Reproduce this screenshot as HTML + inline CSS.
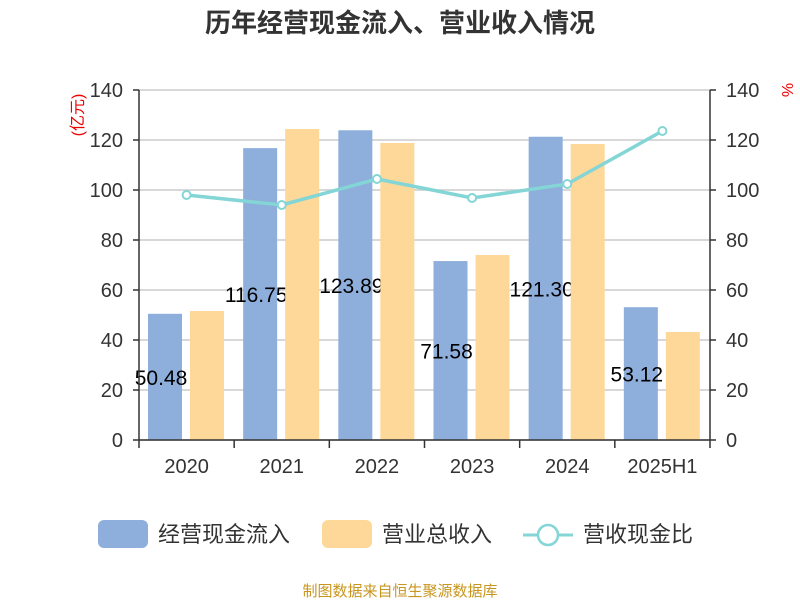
<!DOCTYPE html>
<html><head><meta charset="utf-8"><style>
body{margin:0;background:#fff;}
svg text{font-family:"Liberation Sans","Noto Sans CJK SC",sans-serif;}
</style></head><body>
<svg width="800" height="600" xmlns="http://www.w3.org/2000/svg">
<text x="400" y="32" text-anchor="middle" font-size="26" font-weight="bold" fill="#333">历年经营现金流入、营业收入情况</text>
<g id="grid"></g>
<g id="bars"></g>
<g id="axes"></g>
<g id="line"></g>
<text transform="translate(83,115) rotate(-90)" text-anchor="middle" font-size="16" fill="#e00">(亿元)</text>
<text transform="translate(782,90) rotate(90)" text-anchor="middle" font-size="16" fill="#e00">%</text>
<g>
<rect x="98" y="520" width="50" height="28" rx="6" fill="#8eaedb"/>
<text x="158" y="542" font-size="22" fill="#333">经营现金流入</text>
<rect x="322" y="520" width="50" height="28" rx="6" fill="#fed899"/>
<text x="382" y="542" font-size="22" fill="#333">营业总收入</text>
<line x1="523" y1="535" x2="573" y2="535" stroke="#84d5d6" stroke-width="3"/>
<circle cx="548" cy="535" r="10" fill="#fff" stroke="#84d5d6" stroke-width="2.5"/>
<text x="583" y="542" font-size="22" fill="#333">营收现金比</text>
</g>
<text x="400" y="596" text-anchor="middle" font-size="15" fill="#c8961e">制图数据来自恒生聚源数据库</text>
</svg>
<script>
const categories=["2020","2021","2022","2023","2024","2025H1"];
const cashInflow=[50.48,116.75,123.89,71.58,121.30,53.12];
const revenue=[51.6,124.4,118.8,74.0,118.4,43.2];
const ratio=[98.0,94.0,104.4,96.8,102.4,123.6];
const yTicks=[0,20,40,60,80,100,120,140];
const NS="http://www.w3.org/2000/svg";
const X0=139,X1=710,Y0=440,Y1=90,band=(X1-X0)/categories.length;
const y=v=>Y0-(v/140)*(Y0-Y1);
const yr=v=>Y0-(v/140)*(Y0-Y1);
function mk(tag,attrs,parent){const e=document.createElementNS(NS,tag);for(const k in attrs)e.setAttribute(k,attrs[k]);document.getElementById(parent).appendChild(e);return e;}
yTicks.forEach(t=>{
 const g=mk('line',{x1:X0,x2:X1,y1:y(t),y2:y(t),stroke:'#ccc','stroke-width':1.5},'grid');
 
 
 const l=mk('text',{x:X0-16,y:y(t)+7,'text-anchor':'end','font-size':20,fill:'#333'},'axes');l.textContent=t;
 
 
 const r=mk('text',{x:X1+16,y:yr(t)+7,'font-size':20,fill:'#333'},'axes');r.textContent=t;
 
 
 const tk=mk('line',{x1:X0-6,x2:X0,y1:y(t),y2:y(t),stroke:'#333','stroke-width':1.5},'axes');
 
 
 const tr=mk('line',{x1:X1,x2:X1+6,y1:yr(t),y2:yr(t),stroke:'#333','stroke-width':1.5},'axes');
 
 
});
[[X0,Y1,X0,Y0],[X1,Y1,X1,Y0],[X0,Y0,X1,Y0]].forEach(a=>{
 const l=mk('line',{x1:a[0],y1:a[1],x2:a[2],y2:a[3],stroke:'#333','stroke-width':1.5},'axes');
 
 
});
for(let i=0;i<=categories.length;i++){
 const t=mk('line',{x1:X0+i*band,x2:X0+i*band,y1:Y0,y2:Y0+8,stroke:'#333','stroke-width':1.5},'axes');
 
 
}
categories.forEach((c,i)=>{
 const bx=X0+i*band;
 const lab=mk('text',{x:bx+band/2,y:Y0+33,'text-anchor':'middle','font-size':20,fill:'#333'},'axes');lab.textContent=c;
 
 
 const b=mk('rect',{x:bx+9,y:y(cashInflow[i]),width:34,height:Y0-y(cashInflow[i]),fill:'#8eaedb'},'bars');
 
 
});
categories.forEach((c,i)=>{
 const bx=X0+i*band;
 const t=mk('text',{x:bx+9+17-4,y:y(cashInflow[i]/2)+8,'text-anchor':'middle','font-size':21,fill:'#000'},'bars');
 t.textContent=cashInflow[i].toFixed(2);
 
 
});
categories.forEach((c,i)=>{
 const bx=X0+i*band;
 const b=mk('rect',{x:bx+51,y:y(revenue[i]),width:34,height:Y0-y(revenue[i]),fill:'#fed899'},'bars');
 
 
});
const pts=ratio.map((v,i)=>[X0+i*band+band/2,yr(v)]);
const pl=mk('polyline',{points:pts.map(p=>p.join(',')).join(' '),fill:'none',stroke:'#84d5d6','stroke-width':3.5},'line');


pts.forEach(p=>{
 const c=mk('circle',{cx:p[0],cy:p[1],r:4,fill:'#fff',stroke:'#84d5d6','stroke-width':2},'line');
 
 
});
</script>
</body></html>
